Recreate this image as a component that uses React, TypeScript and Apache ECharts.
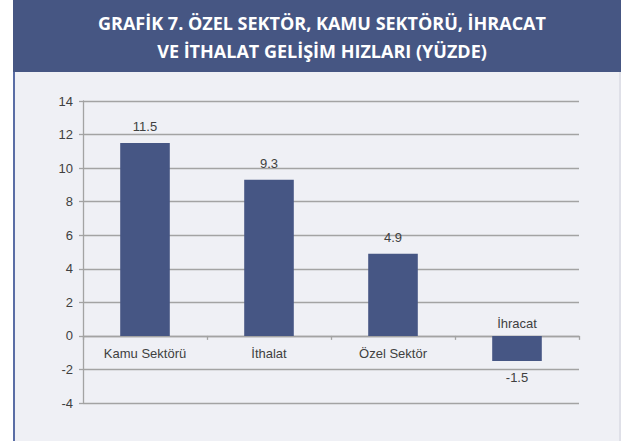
import React, { useEffect, useRef } from "react";
import * as echarts from "echarts";

const categories = ["Kamu Sektörü", "İthalat", "Özel Sektör", "İhracat"];
const values = [11.5, 9.3, 4.9, -1.5];
const yMin = -4;
const yMax = 14;
const yStep = 2;
const titleLines = ["GRAFİK 7. ÖZEL SEKTÖR, KAMU SEKTÖRÜ, İHRACAT", "VE İTHALAT GELİŞİM HIZLARI (YÜZDE)"];

export default function App() {
  const ref = useRef<HTMLDivElement>(null);
  useEffect(() => {
    document.body.style.margin = "0";
    const chart = echarts.init(ref.current!, undefined, { renderer: "svg" });
    const gridColor = "#a3a3a3";
    const gridTop = 101;
    const gridBottom = 38;
    const plotH = 441 - gridTop - gridBottom;
    const zeroOffset = -((0 - yMin) / (yMax - yMin)) * plotH;
    const labelFont = "Arial, 'Liberation Sans'";
    chart.setOption({
      animation: false,
      backgroundColor: "#ffffff",
      graphic: [
        { type: "rect", z: -10, shape: { x: 15, y: 72, width: 604, height: 369 }, style: { fill: "#eff0f5" } },
        { type: "rect", z: -10, shape: { x: 619, y: 72, width: 2, height: 369 }, style: { fill: "#dfe0e8" } },
        { type: "rect", z: -10, shape: { x: 13, y: 72, width: 2, height: 369 }, style: { fill: "#5a6da5" } },
        { type: "rect", z: -10, shape: { x: 13, y: 0, width: 608, height: 72 }, style: { fill: "#465683" } },
        {
          type: "text", z: 10, x: 322, y: 23,
          style: { text: titleLines[0], fill: "#ffffff", font: "bold 18px 'Open Sans'", align: "center", verticalAlign: "middle" },
        },
        {
          type: "text", z: 10, x: 322, y: 50.5,
          style: { text: titleLines[1], fill: "#ffffff", font: "bold 18px 'Open Sans'", align: "center", verticalAlign: "middle" },
        },
      ],
      grid: { left: 83, right: 42, top: gridTop, bottom: gridBottom, containLabel: false },
      xAxis: {
        type: "category",
        offset: zeroOffset,
        data: categories.map((c, i) =>
          values[i] < 0
            ? { value: c, textStyle: { verticalAlign: "bottom", padding: [0, 0, 17, 0] } }
            : c
        ),
        axisLine: { onZero: false, lineStyle: { color: gridColor, width: 1.3 } },
        axisTick: { show: true, length: 4, inside: false, lineStyle: { color: gridColor, width: 1.3 } },
        axisLabel: { color: "#404040", fontFamily: labelFont, fontSize: 13, margin: 11 },
        splitLine: { show: false },
      },
      yAxis: {
        type: "value",
        min: yMin,
        max: yMax,
        interval: yStep,
        axisLine: { show: true, lineStyle: { color: gridColor, width: 1.3 } },
        axisTick: { show: true, length: 4, lineStyle: { color: gridColor, width: 1.3 } },
        axisLabel: { color: "#404040", fontFamily: labelFont, fontSize: 13, margin: 10 },
        splitLine: { show: true, lineStyle: { color: gridColor, width: 1.3 } },
      },
      series: [
        {
          type: "bar",
          data: values,
          barWidth: "40%",
          itemStyle: { color: "#465684" },
          label: {
            show: true,
            position: "outside",
            color: "#404040",
            fontFamily: labelFont,
            fontSize: 13,
            distance: 10,
            formatter: (p: any) => String(p.value),
          },
        },
      ],
    });
    return () => chart.dispose();
  }, []);
  return <div ref={ref} style={{ width: 621, height: 441 }} />;
}
